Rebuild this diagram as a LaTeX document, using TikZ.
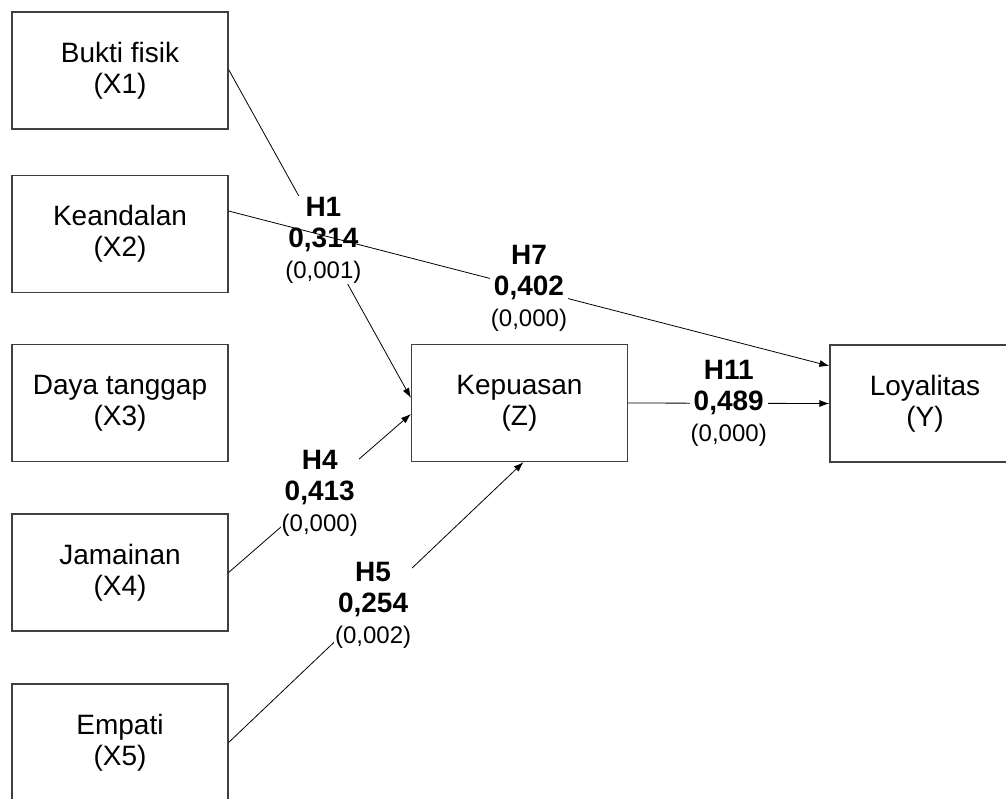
\documentclass[tikz,border=0pt]{standalone}
\usepackage{fontspec}
\setmainfont{Liberation Sans}
\usetikzlibrary{arrows.meta,positioning}
\tikzset{
  varbox/.style={draw=black!75, line width=1.2pt, minimum width=216pt,
    minimum height=117pt, align=center, font=\fontsize{28}{31}\selectfont},
  link/.style={line width=0.8pt, -{Latex[length=10pt,width=7pt]}},
  hyp/.style={fill=white, inner sep=1pt, align=center,
    font=\bfseries\fontsize{28}{31}\selectfont},
}
\newcommand{\pval}[1]{{\mdseries\fontsize{24}{30}\selectfont #1}}

\begin{document}
\begin{tikzpicture}[x=1pt, y=-1pt]
  \clip (0,0) rectangle (1006,798);
  % service quality dimensions
  \node[varbox] (x1) at (120,70.5)  {Bukti fisik\\(X1)};
  \node[varbox] (x2) at (120,234)   {Keandalan\\(X2)};
  \node[varbox] (x3) at (120,403)   {Daya tanggap\\(X3)};
  \node[varbox] (x4) at (120,572.5) {Jamainan\\(X4)};
  \node[varbox] (x5) at (120,742.5) {Empati\\(X5)};
  % mediator and outcome
  \node[varbox] (z) at (519.5,403) {Kepuasan\\(Z)};
  \node[varbox, minimum width=190pt] (y) at (925,403.5) {Loyalitas\\(Y)};
  % hypothesised paths
  \draw[link] ([yshift=1pt]x1.east) --
    node[hyp, pos=0.52] {H1\\0,314\\\pval{(0,001)}} ([yshift=5pt]z.west);
  \draw[link] ([yshift=23pt]x2.east) --
    node[hyp, pos=0.5] {H7\\0,402\\\pval{(0,000)}} ([yshift=37.5pt]y.west);
  \draw[link] (x4.east) --
    node[hyp, pos=0.5] {H4\\0,413\\\pval{(0,000)}} ([yshift=-11pt]z.west);
  \draw[link] (x5.east) --
    node[hyp, pos=0.49] {H5\\0,254\\\pval{(0,002)}} ([xshift=4pt]z.south);
  \draw[link] (z.east) --
    node[hyp, pos=0.5] {H11\\0,489\\\pval{(0,000)}} (y.west);
\end{tikzpicture}
\end{document}
